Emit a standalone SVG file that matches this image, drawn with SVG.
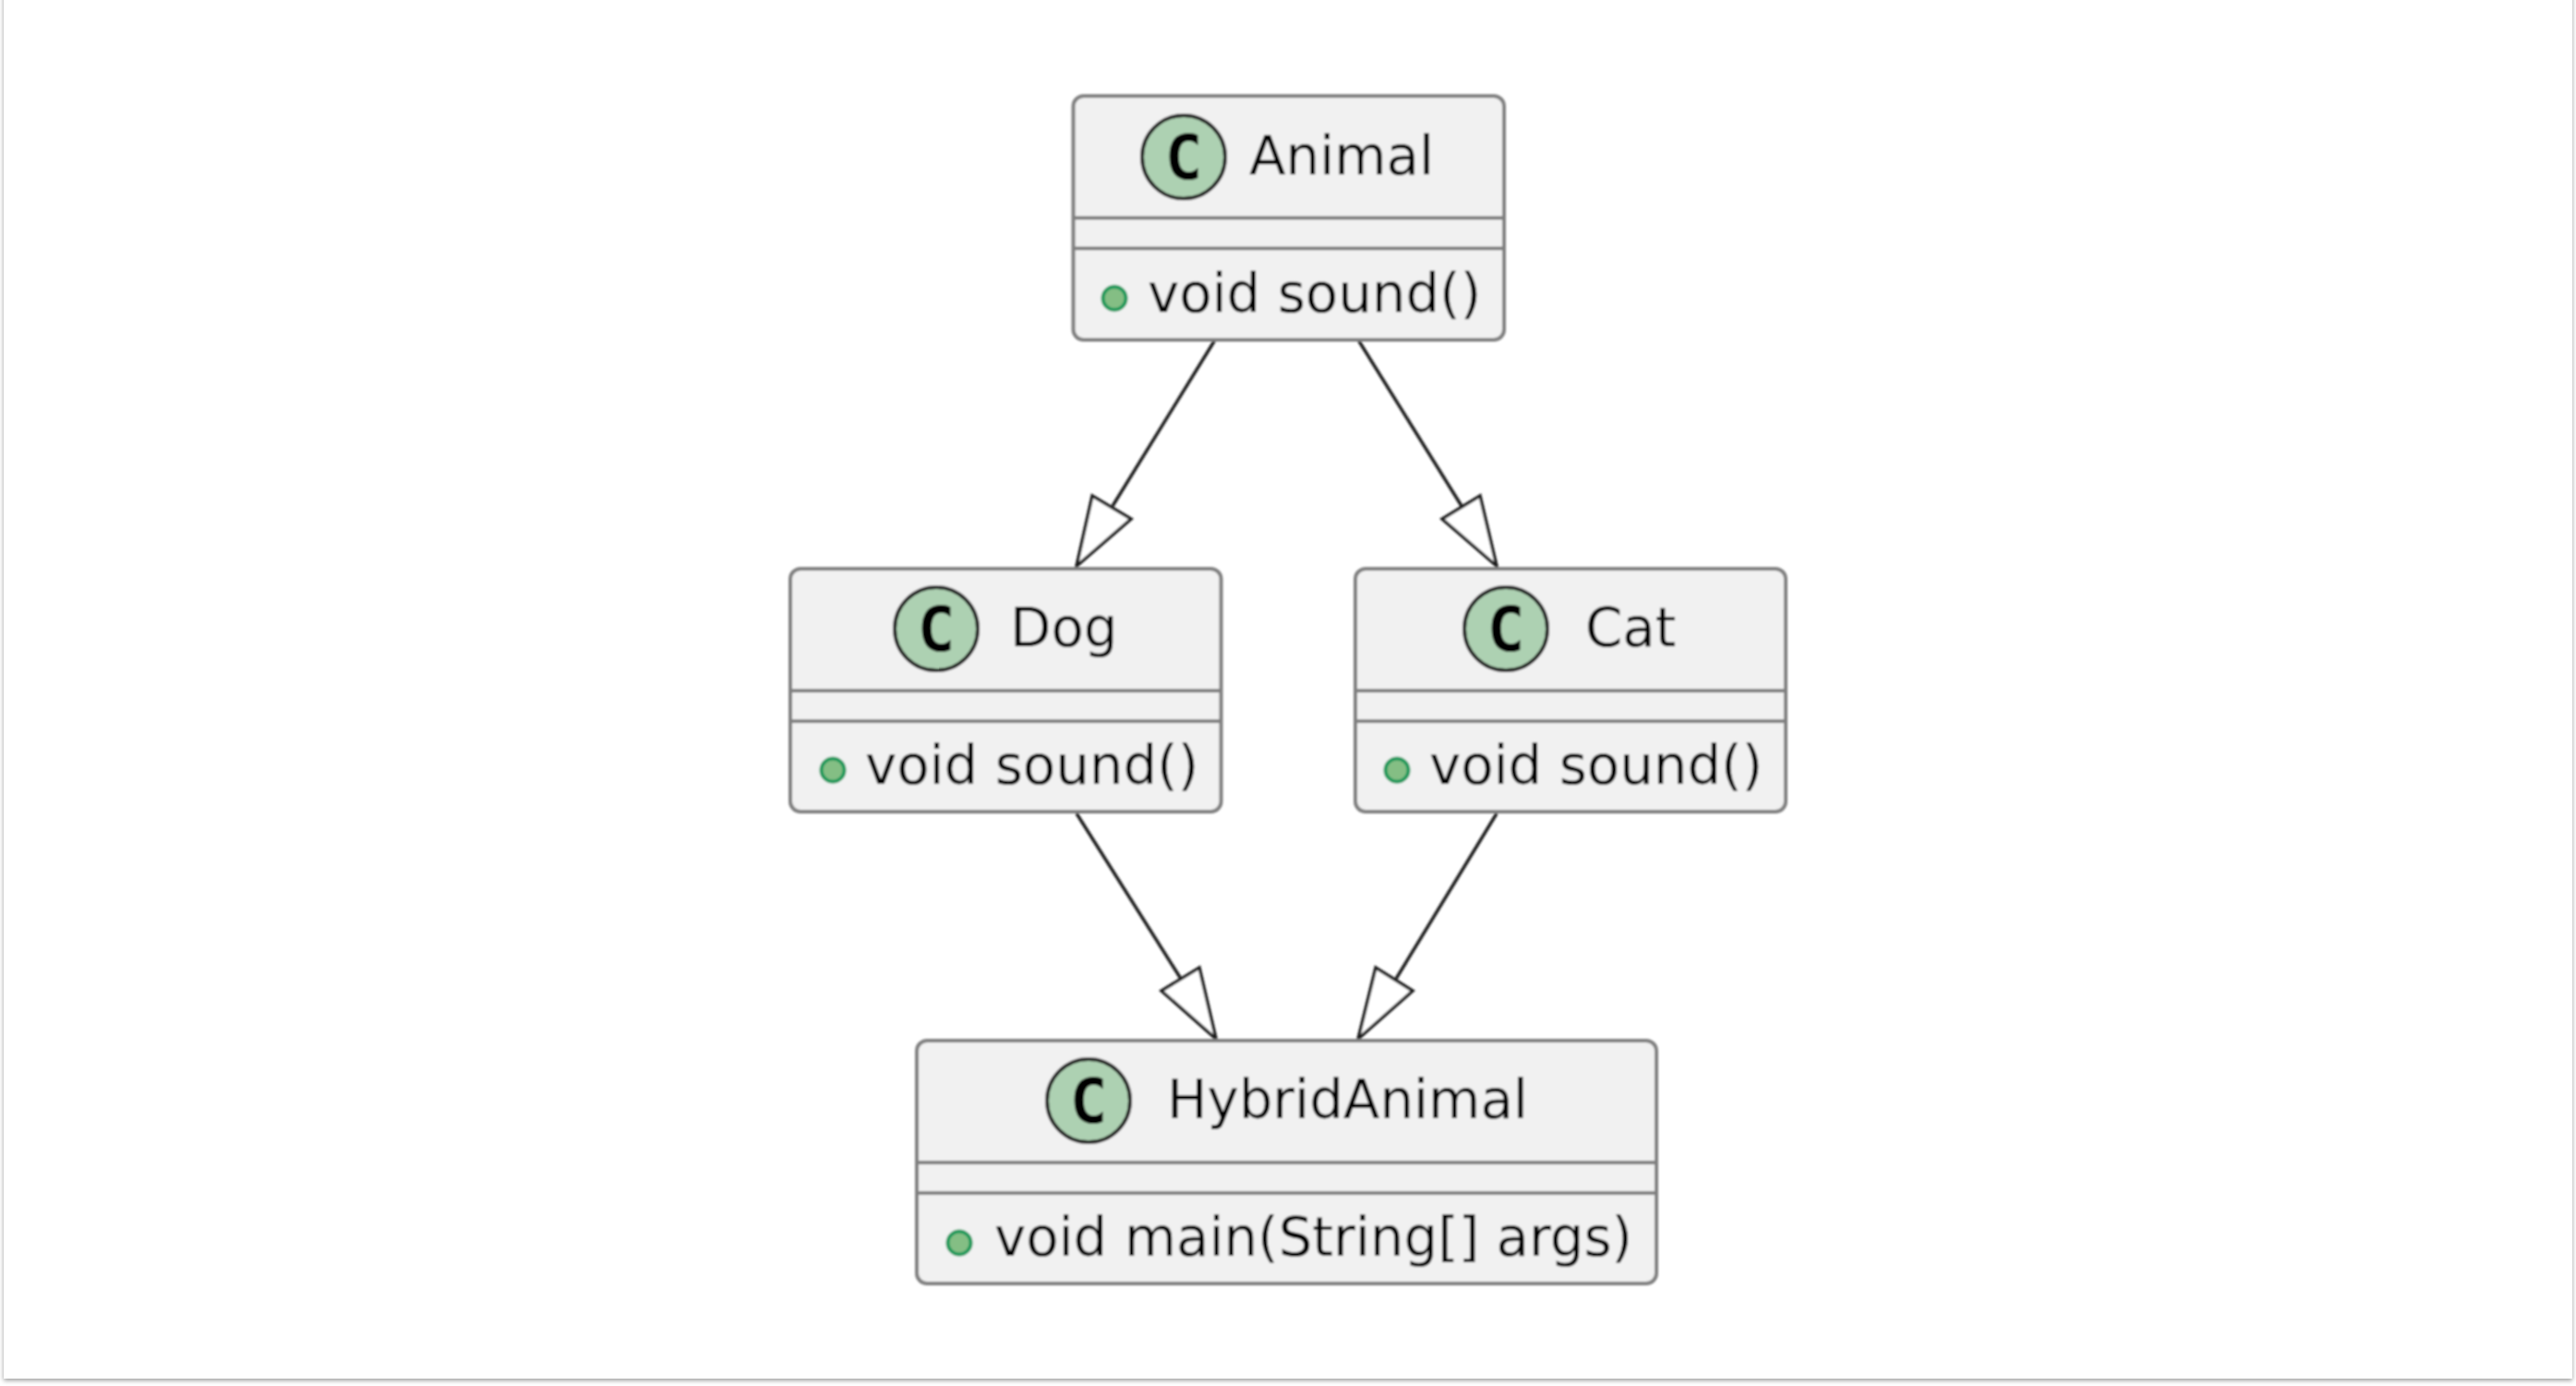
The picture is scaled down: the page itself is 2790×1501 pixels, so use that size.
<svg xmlns="http://www.w3.org/2000/svg" width="2790" height="1501" viewBox="0 0 2790 1501">
<style>
.box{fill:#f1f1f1;stroke:#808080;stroke-width:4}
.sep{stroke:#808080;stroke-width:4;fill:none}
.cir{fill:#add1b2;stroke:#222;stroke-width:4}
.dot{fill:#84be84;stroke:#1f9a5c;stroke-width:4}
.cl{font-family:"DejaVu Sans Mono",monospace;font-weight:700;font-size:68px;fill:#000;text-anchor:middle}
.t{font-family:"DejaVu Sans",sans-serif;font-size:57.800px;fill:#000}
.edge{fill:none;stroke:#1c1c1c;stroke-width:3.500;stroke-linejoin:miter}
.head{fill:#fff;stroke:#1c1c1c;stroke-width:3.500}
</style>
<defs>
<filter id="sh" x="-2%" y="-2%" width="104%" height="104%"><feDropShadow dx="0" dy="2" stdDeviation="2.5" flood-color="#000" flood-opacity="0.4"/></filter>
<filter id="soft" x="-2%" y="-2%" width="104%" height="104%"><feGaussianBlur stdDeviation="1"/></filter>
</defs>
<rect width="2790" height="1501" fill="#fff"/>
<rect id="page" x="4" y="-20" width="2782" height="1513" fill="#fff" filter="url(#sh)"/>
<g filter="url(#soft)">
<g id="connectors">
<path class="edge" d="M1316 368L1205 548"/><polygon class="head" points="1166,613 1183,537 1225,562"/>
<path class="edge" d="M1471 368L1583 548"/><polygon class="head" points="1621,613 1603,537 1562,562"/>
<path class="edge" d="M1166 881L1279 1060"/><polygon class="head" points="1317,1125 1299,1048 1258,1073"/>
<path class="edge" d="M1621 881L1512 1060"/><polygon class="head" points="1471,1125 1490,1048 1530,1073"/>
</g>
<g id="Animal">
<rect class="box" x="1162.500" y="104" width="466.500" height="264" rx="11"/>
<path class="sep" d="M1162.500 236H1629M1162.500 269H1629"/>
<circle class="cir" cx="1282" cy="170" r="45"/>
<text class="cl" x="1282" y="194">C</text>
<text class="t" x="1353" y="189">Animal</text>
<circle class="dot" cx="1207" cy="323" r="12.500"/>
<text class="t" x="1243" y="338">void sound()</text>
</g>
<g id="Dog">
<rect class="box" x="856" y="616" width="466.500" height="263" rx="11"/>
<path class="sep" d="M856 748H1322.500M856 781H1322.500"/>
<circle class="cir" cx="1014" cy="681" r="45"/>
<text class="cl" x="1014" y="705">C</text>
<text class="t" x="1094" y="700">Dog</text>
<circle class="dot" cx="902" cy="834" r="12.500"/>
<text class="t" x="937" y="849">void sound()</text>
</g>
<g id="Cat">
<rect class="box" x="1468" y="616" width="466" height="263" rx="11"/>
<path class="sep" d="M1468 748H1934M1468 781H1934"/>
<circle class="cir" cx="1631" cy="681" r="45"/>
<text class="cl" x="1631" y="705">C</text>
<text class="t" x="1717" y="700">Cat</text>
<circle class="dot" cx="1513" cy="834" r="12.500"/>
<text class="t" x="1548" y="849">void sound()</text>
</g>
<g id="HybridAnimal">
<rect class="box" x="993" y="1127" width="801" height="263" rx="11"/>
<path class="sep" d="M993 1259H1794M993 1292H1794"/>
<circle class="cir" cx="1179" cy="1192" r="45"/>
<text class="cl" x="1179" y="1216">C</text>
<text class="t" x="1264" y="1211">HybridAnimal</text>
<circle class="dot" cx="1039" cy="1346" r="12.500"/>
<text class="t" x="1077" y="1360">void main(String[] args)</text>
</g>
</g>
</svg>
